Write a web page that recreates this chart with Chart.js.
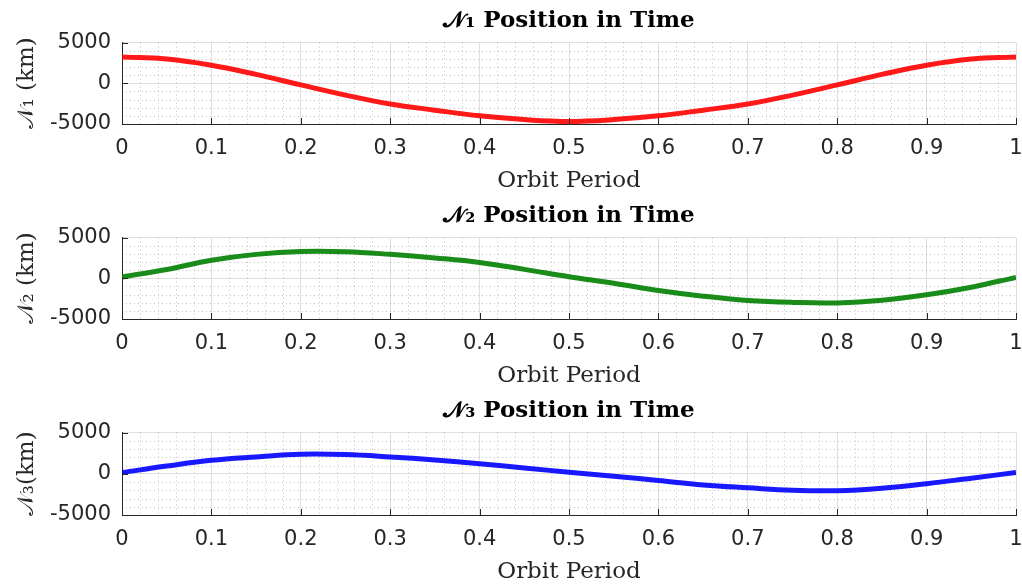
<!DOCTYPE html>
<html>
<head>
<meta charset="utf-8">
<script src="https://cdn.jsdelivr.net/npm/chart.js@4.4.1/dist/chart.umd.min.js"></script>
<style>
  body { margin: 0; background: #fff; }
  .panel { position: absolute; left: 0; width: 1022px; height: 195px; }
</style>
</head>
<body>
<div class="panel" style="top:0"><canvas id="c1"></canvas></div>
<div class="panel" style="top:195px"><canvas id="c2"></canvas></div>
<div class="panel" style="top:390px;height:196px"><canvas id="c3"></canvas></div>
<script>
// fraction of the orbit period
var orbitT = [0, 0.05, 0.1, 0.15, 0.2, 0.25, 0.3, 0.35, 0.4, 0.45, 0.5,
              0.55, 0.6, 0.65, 0.7, 0.75, 0.8, 0.85, 0.9, 0.95, 1];
// positions in km
var n1Pos = [3230, 2980, 2220, 1090, -200, -1450, -2540, -3300, -4000, -4460, -4680,
             -4460, -4000, -3300, -2540, -1450, -200, 1090, 2220, 2980, 3230];
var n2Pos = [150, 1090, 2220, 2940, 3300, 3270, 2940, 2500, 1950, 1100, 200,
             -610, -1500, -2200, -2720, -2960, -3020, -2700, -2020, -1090, 120];
var n3Pos = [150, 940, 1640, 2050, 2380, 2340, 2050, 1680, 1230, 700, 200,
             -290, -820, -1350, -1700, -2000, -2050, -1750, -1200, -530, 150];

var xTickVals = [0, 0.1, 0.2, 0.3, 0.4, 0.5, 0.6, 0.7, 0.8, 0.9, 1];
var yTickVals = [-5000, 0, 5000];

var axisColor = "#262626";

// matlab style minor grid + inward tick marks
var matlabAxes = {
    id: "matlabAxes",
    beforeDatasetsDraw: function(chart) {
        var ctx = chart.ctx, a = chart.chartArea;
        var xs = chart.scales.x, ys = chart.scales.y;
        ctx.save();
        ctx.strokeStyle = "rgba(38,38,38,0.28)";
        ctx.lineWidth = 1;
        ctx.setLineDash([1, 3]);
        for (var i = 1; i < 50; i++) {
            if (i % 5 === 0) continue;
            var px = Math.round(xs.getPixelForValue(i * 0.02)) + 0.5;
            ctx.beginPath(); ctx.moveTo(px, a.top); ctx.lineTo(px, a.bottom); ctx.stroke();
        }
        for (var v = -4000; v <= 4000; v += 1000) {
            if (v === 0) continue;
            var py = Math.round(ys.getPixelForValue(v)) + 0.5;
            ctx.beginPath(); ctx.moveTo(a.left, py); ctx.lineTo(a.right, py); ctx.stroke();
        }
        ctx.restore();
    },
    afterDatasetsDraw: function(chart) {
        var ctx = chart.ctx, a = chart.chartArea;
        var xs = chart.scales.x, ys = chart.scales.y;
        ctx.save();
        ctx.strokeStyle = axisColor;
        ctx.lineWidth = 1;
        xTickVals.forEach(function(t) {
            var px = Math.round(xs.getPixelForValue(t)) + 0.5;
            ctx.beginPath(); ctx.moveTo(px, a.bottom); ctx.lineTo(px, a.bottom - 6); ctx.stroke();
        });
        yTickVals.forEach(function(t) {
            var py = Math.round(ys.getPixelForValue(t)) + 0.5;
            ctx.beginPath(); ctx.moveTo(a.left, py); ctx.lineTo(a.left + 6, py); ctx.stroke();
        });
        ctx.restore();
    }
};

function makePanel(id, values, color, title, yLabel) {
    var pts = orbitT.map(function(t, i) { return { x: t, y: values[i] }; });
    return new Chart(document.getElementById(id).getContext("2d"), {
        type: "line",
        data: {
            datasets: [{
                data: pts,
                borderColor: color,
                borderWidth: 5,
                pointRadius: 0,
                tension: 0.4,
                fill: false
            }]
        },
        options: {
            responsive: true,
            maintainAspectRatio: false,
            animation: false,
            layout: { padding: { left: 0, right: 6, top: 0, bottom: 0 } },
            plugins: {
                legend: { display: false },
                tooltip: { enabled: false },
                title: {
                    display: true,
                    text: title,
                    fullSize: false,
                    color: "#000",
                    font: { family: "DejaVu Serif", weight: "bold", size: 23 },
                    padding: { top: 7, bottom: 8 }
                }
            },
            scales: {
                x: {
                    type: "linear",
                    min: 0,
                    max: 1,
                    afterBuildTicks: function(s) { s.ticks = xTickVals.map(function(v) { return { value: v }; }); },
                    afterFit: function(s) { s.height = 71; s.paddingLeft = 0; s.paddingRight = 0; },
                    ticks: {
                        color: axisColor,
                        font: { family: "DejaVu Sans", size: 21 },
                        padding: 12,
                        maxRotation: 0,
                        callback: function(v) { return String(v); }
                    },
                    grid: { color: "#dfdfdf", drawTicks: false },
                    border: { color: axisColor },
                    title: {
                        display: true,
                        text: "Orbit Period",
                        color: axisColor,
                        font: { family: "DejaVu Serif", size: 23 },
                        padding: { top: 0, bottom: 0 }
                    }
                },
                y: {
                    min: -5000,
                    max: 5000,
                    afterBuildTicks: function(s) { s.ticks = yTickVals.map(function(v) { return { value: v }; }); },
                    afterFit: function(s) { s.width = 122; },
                    ticks: {
                        color: axisColor,
                        font: { family: "DejaVu Sans", size: 21 },
                        padding: 11,
                        callback: function(v) { return String(v); }
                    },
                    grid: { color: "#dfdfdf", drawTicks: false },
                    border: { color: axisColor },
                    title: {
                        display: true,
                        text: yLabel,
                        color: axisColor,
                        font: { family: "DejaVu Serif", size: 23 },
                        padding: { top: 13, bottom: 0 }
                    }
                }
            }
        },
        plugins: [matlabAxes]
    });
}

makePanel("c1", n1Pos, "rgba(255,0,0,0.9)", "\u{1D4A9}\u2081 Position in Time", "\u{1D4A9}\u2081 (km)");
makePanel("c2", n2Pos, "rgba(0,128,0,0.9)", "\u{1D4A9}\u2082 Position in Time", "\u{1D4A9}\u2082 (km)");
makePanel("c3", n3Pos, "rgba(0,0,255,0.9)", "\u{1D4A9}\u2083 Position in Time", "\u{1D4A9}\u2083(km)");
</script>
</body>
</html>
